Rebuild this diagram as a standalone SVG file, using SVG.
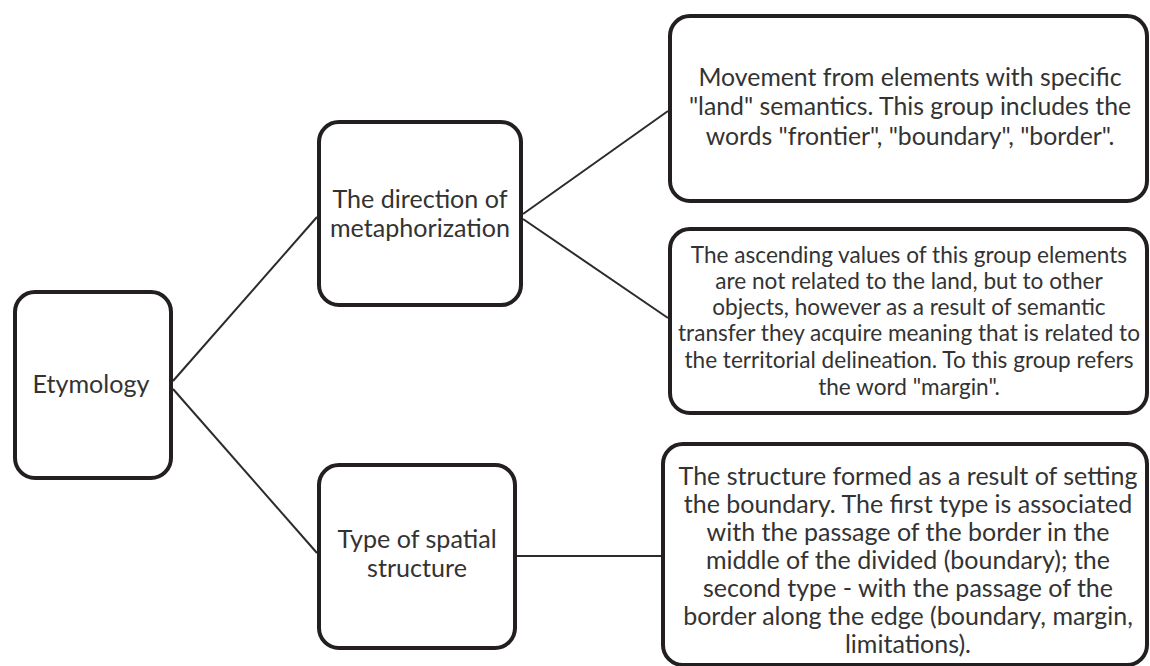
<svg xmlns="http://www.w3.org/2000/svg" width="1150" height="666" viewBox="0 0 1150 666">
  <style>
    .box { fill: #ffffff; stroke: #231f20; stroke-width: 4; }
    .link { stroke: #2b2b2b; stroke-width: 2; fill: none; }
    .lbl { font-family: Lato, "Open Sans", sans-serif; fill: #333333; text-anchor: middle; }
    .big { font-size: 25.1px; }
    .mid { font-size: 24.8px; }
    .small { font-size: 22.6px; }
    .med { font-size: 25px; }
  </style>
  <rect width="1150" height="666" fill="#ffffff"/>

  <g id="connectors">
    <line class="link" x1="173" y1="381" x2="317" y2="217"/>
    <line class="link" x1="173" y1="389" x2="317" y2="553"/>
    <line class="link" x1="523" y1="214" x2="668" y2="111"/>
    <line class="link" x1="523" y1="219" x2="668" y2="318"/>
    <line class="link" x1="517" y1="556" x2="661" y2="556"/>
  </g>

  <g id="etymology">
    <rect class="box" x="15" y="292" width="156" height="186" rx="20"/>
    <text class="lbl big" x="91" y="393">Etymology</text>
  </g>

  <g id="direction">
    <rect class="box" x="319" y="122" width="202" height="183" rx="20"/>
    <text class="lbl big" x="420" y="208">The direction of</text>
    <text class="lbl big" x="420" y="237">metaphorization</text>
  </g>

  <g id="spatial">
    <rect class="box" x="319" y="465" width="196" height="183" rx="20"/>
    <text class="lbl big" x="417" y="548">Type of spatial</text>
    <text class="lbl big" x="417" y="577">structure</text>
  </g>

  <g id="land-semantics">
    <rect class="box" x="670" y="16" width="477" height="185" rx="20"/>
    <text class="lbl mid" x="910" y="86">Movement from elements with specific</text>
    <text class="lbl mid" x="910" y="115">"land" semantics. This group includes the</text>
    <text class="lbl mid" x="910" y="145">words "frontier", "boundary", "border".</text>
  </g>

  <g id="semantic-transfer">
    <rect class="box" x="670" y="229" width="477" height="184" rx="20"/>
    <text class="lbl small" x="909" y="263">The ascending values of this group elements</text>
    <text class="lbl small" x="909" y="289">are not related to the land, but to other</text>
    <text class="lbl small" x="909" y="315">objects, however as a result of semantic</text>
    <text class="lbl small" x="909" y="341">transfer they acquire meaning that is related to</text>
    <text class="lbl small" x="909" y="368">the territorial delineation. To this group refers</text>
    <text class="lbl small" x="909" y="395">the word "margin".</text>
  </g>

  <g id="boundary-structure">
    <rect class="box" x="663" y="444" width="484" height="221" rx="20"/>
    <text class="lbl med" x="908" y="485">The structure formed as a result of setting</text>
    <text class="lbl med" x="908" y="513">the boundary. The first type is associated</text>
    <text class="lbl med" x="908" y="541">with the passage of the border in the</text>
    <text class="lbl med" x="908" y="569">middle of the divided (boundary); the</text>
    <text class="lbl med" x="908" y="597">second type - with the passage of the</text>
    <text class="lbl med" x="908" y="625">border along the edge (boundary, margin,</text>
    <text class="lbl med" x="908" y="653">limitations).</text>
  </g>
</svg>
